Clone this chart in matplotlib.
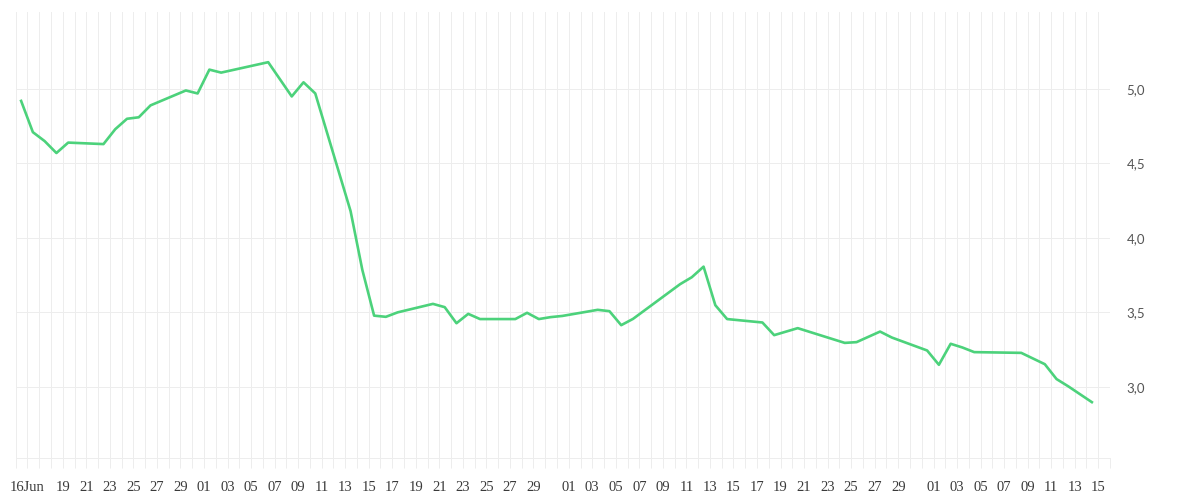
# -*- coding: utf-8 -*-
# Serie diaria (dias uteis) - jun a set 2020

import pandas as pd
import numpy as np
import matplotlib.pyplot as plt
import matplotlib.dates as mdates

# ============================================================
# 1. DADOS
# ============================================================

datas = [
    "2020-06-15", "2020-06-16", "2020-06-17", "2020-06-18", "2020-06-19",
    "2020-06-22", "2020-06-23", "2020-06-24", "2020-06-25", "2020-06-26",
    "2020-06-29", "2020-06-30", "2020-07-01", "2020-07-02", "2020-07-06",
    "2020-07-08", "2020-07-09", "2020-07-10", "2020-07-13", "2020-07-14",
    "2020-07-15", "2020-07-16", "2020-07-17", "2020-07-20", "2020-07-21",
    "2020-07-22", "2020-07-23", "2020-07-24", "2020-07-27", "2020-07-28",
    "2020-07-29", "2020-07-30", "2020-07-31", "2020-08-03", "2020-08-04",
    "2020-08-05", "2020-08-06", "2020-08-10", "2020-08-11", "2020-08-12",
    "2020-08-13", "2020-08-14", "2020-08-17", "2020-08-18", "2020-08-20",
    "2020-08-24", "2020-08-25", "2020-08-27", "2020-08-28", "2020-08-31",
    "2020-09-01", "2020-09-02", "2020-09-03", "2020-09-04", "2020-09-08",
    "2020-09-10", "2020-09-11", "2020-09-12", "2020-09-14",
]

valores = [
    4.92, 4.71, 4.65, 4.57, 4.64,
    4.63, 4.73, 4.80, 4.81, 4.89,
    4.99, 4.97, 5.13, 5.11, 5.18,
    4.95, 5.045, 4.97, 4.18, 3.785,
    3.478, 3.47, 3.50, 3.557, 3.535,
    3.427, 3.49, 3.455, 3.455, 3.497,
    3.455, 3.468, 3.476, 3.517, 3.508,
    3.414, 3.456, 3.689, 3.736, 3.807,
    3.548, 3.455, 3.432, 3.347, 3.394,
    3.295, 3.30, 3.371, 3.331, 3.244,
    3.148, 3.289, 3.264, 3.233, 3.228,
    3.152, 3.052, 3.003, 2.897,
]

# Rotulos do eixo x (dias com texto)
rotulos_datas = (
    ["2020-06-16"]
    + [f"2020-06-{d:02d}" for d in [19, 21, 23, 25, 27, 29]]
    + [f"2020-07-{d:02d}" for d in range(1, 30, 2)]
    + [f"2020-08-{d:02d}" for d in range(1, 30, 2)]
    + [f"2020-09-{d:02d}" for d in range(1, 16, 2)]
)
rotulos_texto = ["16Jun"] + [d[-2:] for d in rotulos_datas[1:]]

y_ticks = [3.0, 3.5, 4.0, 4.5, 5.0]

# ============================================================
# 2. ESTILO
# ============================================================

cor_linha = "#4CD27B"
cor_grade = "#EDEDED"
cor_texto = "#3A3A3A"
deslocamento = pd.Timedelta(hours=11)   # pontos ficam no meio do dia

x = pd.to_datetime(datas) + deslocamento

# ============================================================
# 3. GRAFICO
# ============================================================

fig = plt.figure(figsize=(12, 5), dpi=100)
ax = fig.add_axes([0.0131, 0.0834, 0.9119, 0.8926])

ax.plot(x, valores, color=cor_linha, linewidth=1.9, solid_joinstyle="round")

ax.set_xlim(pd.Timestamp("2020-06-15"), pd.Timestamp("2020-09-16"))
ax.set_ylim(2.52, 5.517)

# grade vertical diaria (ticks maiores) + rotulos a cada 2 dias
dias = pd.date_range("2020-06-15", "2020-09-16", freq="D")
mapa = dict(zip(pd.to_datetime(rotulos_datas), rotulos_texto))
ax.set_xticks(dias)
ax.set_xticklabels([mapa.get(d, "") for d in dias])
ax.tick_params(axis="x", length=7.2, width=0.72, color=cor_grade,
               pad=9, labelsize=10.5, labelcolor=cor_texto)
for lab in ax.get_xticklabels():
    lab.set_fontfamily("Liberation Serif")

ax.yaxis.tick_right()
ax.set_yticks(y_ticks)
ax.set_yticklabels([f"{v:.1f}".replace(".", ",") for v in y_ticks])
ax.tick_params(axis="y", length=0, pad=12, labelsize=9.5, labelcolor="#555555")
for lab in ax.get_yticklabels():
    lab.set_fontfamily("Lato")

ax.grid(True, color=cor_grade, linewidth=0.72)
ax.set_axisbelow(True)

for lado in ["top", "left", "right"]:
    ax.spines[lado].set_visible(False)
ax.spines["bottom"].set_color(cor_grade)
ax.spines["bottom"].set_linewidth(0.72)

fig.savefig("out.png", dpi=100)
